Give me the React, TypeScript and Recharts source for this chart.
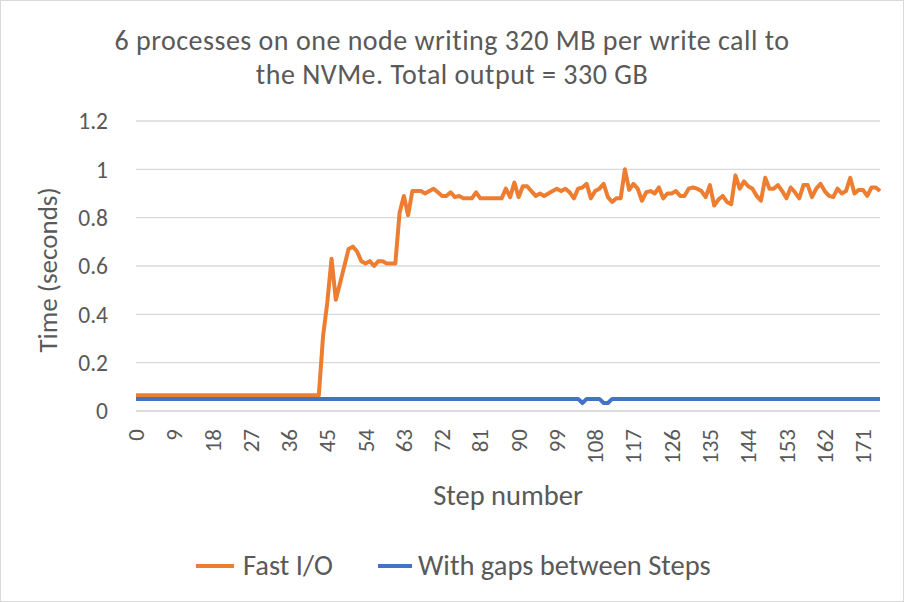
import React from 'react';
import { LineChart, Line, XAxis, YAxis, CartesianGrid } from 'recharts';

// Step numbers (categories)
const steps: string[] = Array.from({ length: 176 }, (_, i) => String(i));

// Fast I/O series (seconds), indices 0..175
const fastIO: number[] = [
  // 0-15
  0.065, 0.065, 0.065, 0.065, 0.065, 0.065, 0.065, 0.065, 0.065, 0.065, 0.065, 0.065, 0.065, 0.065, 0.065, 0.065,
  // 16-31
  0.065, 0.065, 0.065, 0.065, 0.065, 0.065, 0.065, 0.065, 0.065, 0.065, 0.065, 0.065, 0.065, 0.065, 0.065, 0.065,
  // 32-43
  0.065, 0.065, 0.065, 0.065, 0.065, 0.065, 0.065, 0.065, 0.065, 0.065, 0.065, 0.065,
  // 44-61
  0.31, 0.45, 0.63, 0.46, 0.53, 0.6, 0.67, 0.68, 0.66, 0.62, 0.61, 0.62, 0.6, 0.62, 0.62, 0.61, 0.61, 0.61,
  // 62-81
  0.82, 0.89, 0.81, 0.91, 0.91, 0.91, 0.9, 0.91, 0.92, 0.905, 0.89, 0.89, 0.905, 0.885, 0.89, 0.88, 0.88, 0.88, 0.905, 0.88,
  // 82-101
  0.88, 0.88, 0.88, 0.88, 0.88, 0.92, 0.885, 0.945, 0.885, 0.93, 0.93, 0.91, 0.89, 0.9, 0.89, 0.9, 0.91, 0.92, 0.91, 0.92,
  // 102-121
  0.905, 0.88, 0.92, 0.925, 0.94, 0.88, 0.91, 0.92, 0.94, 0.885, 0.865, 0.88, 0.88, 1.0, 0.915, 0.94, 0.92, 0.87, 0.905, 0.91,
  // 122-141
  0.9, 0.925, 0.88, 0.9, 0.9, 0.91, 0.89, 0.89, 0.92, 0.925, 0.92, 0.91, 0.885, 0.935, 0.85, 0.875, 0.89, 0.865, 0.855, 0.975,
  // 142-161
  0.92, 0.95, 0.93, 0.92, 0.89, 0.87, 0.965, 0.92, 0.92, 0.935, 0.91, 0.88, 0.925, 0.905, 0.88, 0.935, 0.935, 0.885, 0.92, 0.94,
  // 162-175
  0.91, 0.89, 0.885, 0.92, 0.9, 0.91, 0.965, 0.9, 0.915, 0.915, 0.89, 0.925, 0.925, 0.91,
];

// With gaps between Steps series (seconds), indices 0..175
const withGaps: number[] = [
  // 0-15
  0.05, 0.05, 0.05, 0.05, 0.05, 0.05, 0.05, 0.05, 0.05, 0.05, 0.05, 0.05, 0.05, 0.05, 0.05, 0.05,
  // 16-31
  0.05, 0.05, 0.05, 0.05, 0.05, 0.05, 0.05, 0.05, 0.05, 0.05, 0.05, 0.05, 0.05, 0.05, 0.05, 0.05,
  // 32-47
  0.05, 0.05, 0.05, 0.05, 0.05, 0.05, 0.05, 0.05, 0.05, 0.05, 0.05, 0.05, 0.05, 0.05, 0.05, 0.05,
  // 48-63
  0.05, 0.05, 0.05, 0.05, 0.05, 0.05, 0.05, 0.05, 0.05, 0.05, 0.05, 0.05, 0.05, 0.05, 0.05, 0.05,
  // 64-79
  0.05, 0.05, 0.05, 0.05, 0.05, 0.05, 0.05, 0.05, 0.05, 0.05, 0.05, 0.05, 0.05, 0.05, 0.05, 0.05,
  // 80-95
  0.05, 0.05, 0.05, 0.05, 0.05, 0.05, 0.05, 0.05, 0.05, 0.05, 0.05, 0.05, 0.05, 0.05, 0.05, 0.05,
  // 96-111
  0.05, 0.05, 0.05, 0.05, 0.05, 0.05, 0.05, 0.05, 0.05, 0.033, 0.05, 0.05, 0.05, 0.05, 0.033, 0.033,
  // 112-127
  0.05, 0.05, 0.05, 0.05, 0.05, 0.05, 0.05, 0.05, 0.05, 0.05, 0.05, 0.05, 0.05, 0.05, 0.05, 0.05,
  // 128-143
  0.05, 0.05, 0.05, 0.05, 0.05, 0.05, 0.05, 0.05, 0.05, 0.05, 0.05, 0.05, 0.05, 0.05, 0.05, 0.05,
  // 144-159
  0.05, 0.05, 0.05, 0.05, 0.05, 0.05, 0.05, 0.05, 0.05, 0.05, 0.05, 0.05, 0.05, 0.05, 0.05, 0.05,
  // 160-175
  0.05, 0.05, 0.05, 0.05, 0.05, 0.05, 0.05, 0.05, 0.05, 0.05, 0.05, 0.05, 0.05, 0.05, 0.05, 0.05,
];

const yTicks: number[] = [0, 0.2, 0.4, 0.6, 0.8, 1, 1.2];

const titleLines: string[] = [
  '6 processes on one node writing 320 MB per write call to',
  'the NVMe. Total output = 330 GB',
];
const yTitle = 'Time (seconds)';
const xTitle = 'Step number';
const seriesNames: string[] = ['Fast I/O', 'With gaps between Steps'];

const ORANGE = '#ED7D31';
const BLUE = '#4472C4';
const TEXT = '#595959';
const GRID = '#d9d9d9';
const FONT = 'Carlito, Calibri, Lato, sans-serif';

const data = steps.map((s, i) => ({ step: s, fast: fastIO[i], gaps: withGaps[i] }));

// legend layout (sample left, sample width, text left)
const legendLayout = [
  { sampleLeft: 196, sampleWidth: 38, textLeft: 243 },
  { sampleLeft: 378, sampleWidth: 34, textLeft: 418 },
];

const XTick = (props: any) => {
  const { x, y, payload } = props;
  return (
    <text
      x={x}
      y={y}
      transform={`rotate(-90, ${x}, ${y})`}
      textAnchor="end"
      dy="0.35em"
      fill={TEXT}
      fontSize={23}
      fontFamily={FONT}
    >
      {payload.value}
    </text>
  );
};

export default function App() {
  return (
    <div style={{ position: 'absolute', left: 0, top: 0, width: 904, height: 602, background: '#fff', fontFamily: FONT }}>
      <LineChart
        width={904}
        height={602}
        data={data}
        margin={{ top: 121, right: 24, left: 0, bottom: 131 }}
      >
        <CartesianGrid vertical={false} stroke={GRID} strokeWidth={1.3} />
        <XAxis
          dataKey="step"
          interval={8}
          height={60}
          tickLine={false}
          tickMargin={12}
          axisLine={{ stroke: GRID, strokeWidth: 1.3 }}
          tick={<XTick />}
        />
        <YAxis
          width={136}
          domain={[0, 1.2]}
          ticks={yTicks}
          axisLine={false}
          tickLine={false}
          tickMargin={22}
          tick={{ fill: TEXT, fontSize: 23.5, fontFamily: FONT }}
        />
        <Line
          type="linear"
          dataKey="fast"
          stroke={ORANGE}
          strokeWidth={4}
          dot={false}
          isAnimationActive={false}
          strokeLinejoin="round"
        />
        <Line
          type="linear"
          dataKey="gaps"
          stroke={BLUE}
          strokeWidth={4}
          dot={false}
          isAnimationActive={false}
          strokeLinejoin="round"
        />
      </LineChart>

      {/* Title */}
      <div
        style={{
          position: 'absolute',
          left: 0,
          top: 24,
          width: 904,
          textAlign: 'center',
          color: TEXT,
          fontSize: 28,
          letterSpacing: '0.5px',
          lineHeight: '34px',
        }}
      >
        {titleLines.map((t) => (
          <div key={t} style={{ height: 34 }}>{t}</div>
        ))}
      </div>

      {/* Y axis title */}
      <div
        style={{
          position: 'absolute',
          left: 48 - 150,
          top: 270 - 17,
          width: 300,
          height: 34,
          lineHeight: '34px',
          textAlign: 'center',
          color: TEXT,
          fontSize: 27,
          transform: 'rotate(-90deg)',
        }}
      >
        {yTitle}
      </div>

      {/* X axis title */}
      <div
        style={{
          position: 'absolute',
          left: 508 - 150,
          top: 496 - 17,
          width: 300,
          height: 34,
          lineHeight: '34px',
          textAlign: 'center',
          color: TEXT,
          fontSize: 28.5,
        }}
      >
        {xTitle}
      </div>

      {/* Legend */}
      {seriesNames.map((name, i) => (
        <React.Fragment key={name}>
          <div
            style={{
              position: 'absolute',
              left: legendLayout[i].sampleLeft,
              top: 564,
              width: legendLayout[i].sampleWidth,
              height: 4,
              background: i === 0 ? ORANGE : BLUE,
            }}
          />
          <div
            style={{
              position: 'absolute',
              left: legendLayout[i].textLeft,
              top: 566 - 17,
              height: 34,
              lineHeight: '34px',
              color: TEXT,
              fontSize: 28.5,
              whiteSpace: 'nowrap',
            }}
          >
            {name}
          </div>
        </React.Fragment>
      ))}

      {/* Chart border */}
      <div
        style={{
          position: 'absolute',
          left: 0,
          top: 0,
          width: 904,
          height: 602,
          boxSizing: 'border-box',
          border: `1px solid ${GRID}`,
          pointerEvents: 'none',
        }}
      />
    </div>
  );
}
